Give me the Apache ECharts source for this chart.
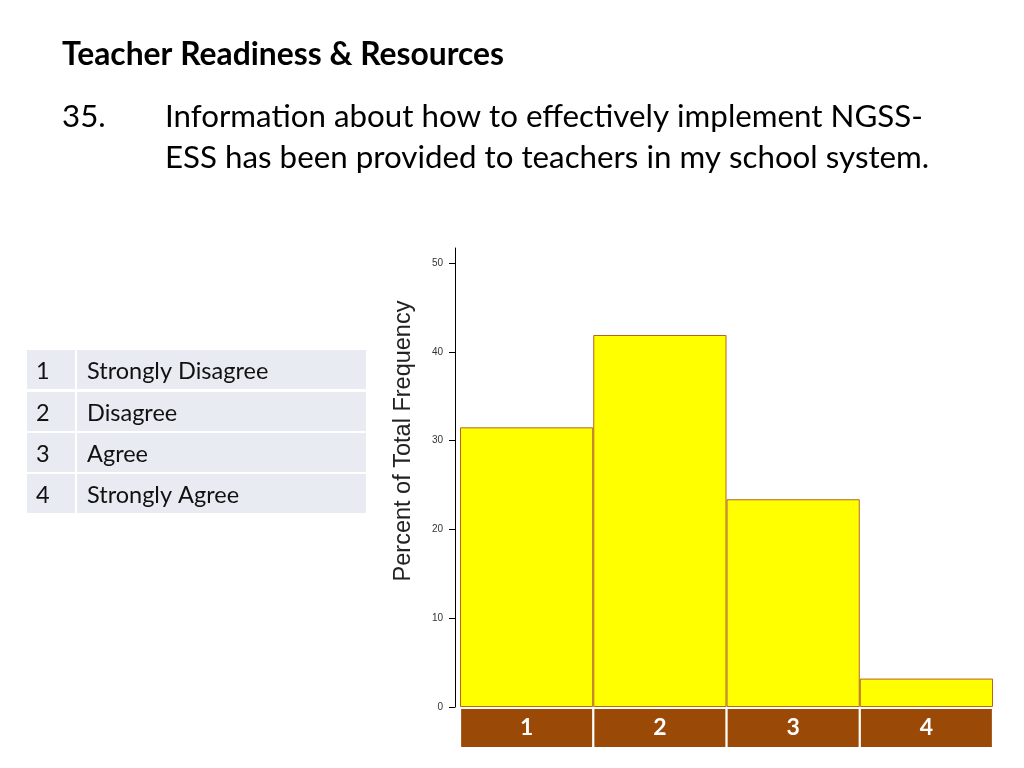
<!DOCTYPE html>
<html>
<head>
  <meta charset="utf-8">
  <title>Teacher Readiness</title>
  <script src="https://cdn.jsdelivr.net/npm/echarts@6/dist/echarts.min.js"></script>
  <style>
  html, body { margin: 0; padding: 0; background: #fff; }
  #main { width: 1024px; height: 768px; }
  </style>
</head>
<body>
  <div id="main"></div>
  <script type="text/javascript">
  // data
  var categories = ['1', '2', '3', '4'];
  var percents = [31.5, 41.9, 23.4, 3.2];
  var yTicks = [0, 10, 20, 30, 40, 50];
  var legendCodes = ['1', '2', '3', '4'];
  var legendLabels = ['Strongly Disagree', 'Disagree', 'Agree', 'Strongly Agree'];

  var myChart = echarts.init(document.getElementById('main'));

  // the little answer key table on the left
  var tableGraphics = [];
  var rowTop = [350, 392, 433, 474];
  for (var i = 0; i < legendCodes.length; i++) {
    tableGraphics.push({
      type: 'rect', shape: { x: 27, y: rowTop[i], width: 48, height: 39 },
      style: { fill: '#e9ebf3' }
    });
    tableGraphics.push({
      type: 'rect', shape: { x: 77, y: rowTop[i], width: 289, height: 39 },
      style: { fill: '#e9ebf3' }
    });
    tableGraphics.push({
      type: 'text', x: 36, y: rowTop[i] + 21,
      style: { text: legendCodes[i], font: '23.5px Lato', fill: '#111', verticalAlign: 'middle' }
    });
    tableGraphics.push({
      type: 'text', x: 87, y: rowTop[i] + 21,
      style: { text: legendLabels[i], font: '23.5px Lato', fill: '#111', verticalAlign: 'middle' }
    });
  }

  var option = {
    backgroundColor: '#fff',
    animation: false,
    grid: { left: 460, right: 31, top: 248, bottom: 61 },
    xAxis: {
      type: 'category',
      data: categories,
      axisLine: { show: false },
      axisTick: { show: false },
      axisLabel: {
        margin: 2,
        formatter: function (v) { return '{b|' + v + '}'; },
        rich: {
          b: {
            width: 131, height: 38, lineHeight: 38, align: 'center',
            backgroundColor: '#9a4906', color: '#fff',
            fontFamily: 'Lato', fontWeight: 'bold', fontSize: 23
          }
        }
      }
    },
    yAxis: {
      type: 'value',
      min: 0,
      max: 51.7,
      offset: 5,
      splitLine: { show: false },
      axisLine: { show: true, lineStyle: { color: '#000', width: 1 } },
      axisTick: { show: true, length: 6, customValues: yTicks, lineStyle: { color: '#000' } },
      axisLabel: {
        customValues: yTicks, margin: 12,
        color: '#333', fontFamily: 'Liberation Sans', fontSize: 10
      }
    },
    series: [{
      type: 'bar',
      data: percents,
      barCategoryGap: '0%',
      itemStyle: { color: '#ffff00', borderColor: '#b5651d', borderWidth: 1 }
    }],
    graphic: [
      {
        type: 'text', x: 62, y: 55,
        style: { text: 'Teacher Readiness & Resources', font: 'bold 31.8px Lato', fill: '#000', verticalAlign: 'middle' }
      },
      {
        type: 'text', x: 62, y: 117,
        style: { text: '35.', font: '31.3px Lato', fill: '#000', verticalAlign: 'middle' }
      },
      {
        type: 'text', x: 165, y: 117,
        style: { text: 'Information about how to effectively implement NGSS-', font: '31.3px Lato', fill: '#000', verticalAlign: 'middle' }
      },
      {
        type: 'text', x: 165, y: 158,
        style: { text: 'ESS has been provided to teachers in my school system.', font: '31.3px Lato', fill: '#000', verticalAlign: 'middle' }
      },
      {
        type: 'text', x: 404, y: 441, rotation: Math.PI / 2,
        style: { text: 'Percent of Total Frequency', font: '23.5px Liberation Sans', fill: '#222', align: 'center', verticalAlign: 'middle' }
      }
    ].concat(tableGraphics)
  };
  myChart.setOption(option);
  </script>
</body>
</html>
